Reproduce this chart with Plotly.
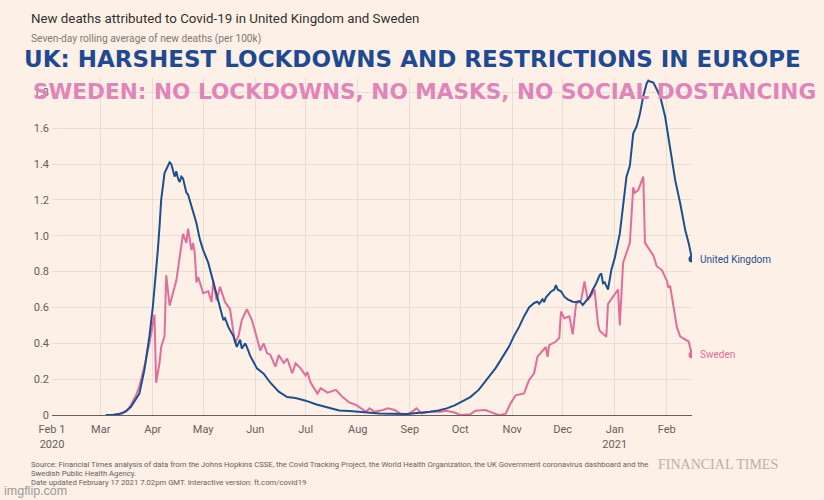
import plotly.graph_objects as go

uk_dates = ["2020-03-04","2020-03-08","2020-03-12","2020-03-16","2020-03-19","2020-03-22","2020-03-24","2020-03-27","2020-03-30","2020-04-01","2020-04-03","2020-04-04","2020-04-05","2020-04-06","2020-04-08","2020-04-10","2020-04-11","2020-04-12","2020-04-13","2020-04-14","2020-04-15","2020-04-16","2020-04-17","2020-04-18","2020-04-19","2020-04-20","2020-04-21","2020-04-22","2020-04-24","2020-04-27","2020-04-29","2020-05-01","2020-05-04","2020-05-07","2020-05-10","2020-05-13","2020-05-14","2020-05-16","2020-05-19","2020-05-21","2020-05-23","2020-05-24","2020-05-26","2020-05-27","2020-05-29","2020-06-02","2020-06-06","2020-06-10","2020-06-15","2020-06-20","2020-06-25","2020-07-01","2020-07-07","2020-07-13","2020-07-21","2020-07-27","2020-08-02","2020-08-14","2020-08-30","2020-09-06","2020-09-13","2020-09-18","2020-09-23","2020-09-28","2020-10-02","2020-10-07","2020-10-12","2020-10-17","2020-10-22","2020-10-26","2020-10-30","2020-11-02","2020-11-05","2020-11-08","2020-11-11","2020-11-14","2020-11-16","2020-11-17","2020-11-19","2020-11-20","2020-11-21","2020-11-24","2020-11-26","2020-11-27","2020-11-28","2020-11-30","2020-12-02","2020-12-04","2020-12-07","2020-12-09","2020-12-11","2020-12-13","2020-12-15","2020-12-17","2020-12-19","2020-12-21","2020-12-23","2020-12-24","2020-12-25","2020-12-26","2020-12-28","2020-12-30","2021-01-01","2021-01-04","2021-01-06","2021-01-08","2021-01-10","2021-01-12","2021-01-14","2021-01-16","2021-01-18","2021-01-20","2021-01-21","2021-01-22","2021-01-24","2021-01-26","2021-01-28","2021-01-31","2021-02-03","2021-02-06","2021-02-09","2021-02-12","2021-02-14","2021-02-16"]
uk_values = [0,0.0,0.005,0.02,0.046,0.09,0.12,0.25,0.44,0.60,0.79,0.92,1.05,1.20,1.35,1.39,1.41,1.40,1.37,1.33,1.36,1.32,1.30,1.33,1.32,1.28,1.24,1.23,1.16,1.07,0.98,0.92,0.85,0.74,0.64,0.53,0.54,0.49,0.44,0.38,0.42,0.37,0.40,0.38,0.33,0.26,0.23,0.18,0.13,0.10,0.095,0.08,0.06,0.046,0.025,0.022,0.018,0.009,0.005,0.01,0.018,0.025,0.037,0.055,0.074,0.10,0.14,0.20,0.26,0.32,0.38,0.44,0.49,0.55,0.60,0.625,0.632,0.62,0.645,0.63,0.655,0.688,0.70,0.725,0.70,0.69,0.66,0.645,0.632,0.63,0.635,0.614,0.635,0.66,0.70,0.735,0.78,0.79,0.735,0.74,0.70,0.81,0.875,1.01,1.17,1.33,1.39,1.57,1.61,1.68,1.78,1.85,1.865,1.86,1.855,1.82,1.78,1.665,1.48,1.31,1.18,1.03,0.96,0.87]

se_dates = ["2020-03-08","2020-03-11","2020-03-14","2020-03-17","2020-03-19","2020-03-22","2020-03-24","2020-03-27","2020-03-29","2020-03-30","2020-04-02","2020-04-03","2020-04-05","2020-04-06","2020-04-08","2020-04-09","2020-04-11","2020-04-13","2020-04-15","2020-04-17","2020-04-19","2020-04-21","2020-04-22","2020-04-24","2020-04-25","2020-04-26","2020-04-27","2020-04-28","2020-05-01","2020-05-04","2020-05-06","2020-05-07","2020-05-09","2020-05-11","2020-05-14","2020-05-17","2020-05-20","2020-05-22","2020-05-24","2020-05-27","2020-05-30","2020-06-02","2020-06-04","2020-06-06","2020-06-08","2020-06-10","2020-06-13","2020-06-15","2020-06-18","2020-06-20","2020-06-23","2020-06-25","2020-06-28","2020-07-01","2020-07-02","2020-07-04","2020-07-07","2020-07-08","2020-07-10","2020-07-14","2020-07-19","2020-07-23","2020-07-27","2020-07-31","2020-08-03","2020-08-06","2020-08-08","2020-08-11","2020-08-16","2020-08-19","2020-08-23","2020-08-26","2020-08-29","2020-09-01","2020-09-05","2020-09-08","2020-09-13","2020-09-19","2020-09-23","2020-09-28","2020-10-01","2020-10-07","2020-10-10","2020-10-16","2020-10-20","2020-10-24","2020-10-28","2020-10-31","2020-11-03","2020-11-08","2020-11-11","2020-11-14","2020-11-16","2020-11-19","2020-11-21","2020-11-22","2020-11-23","2020-11-27","2020-11-29","2020-11-30","2020-12-02","2020-12-05","2020-12-07","2020-12-09","2020-12-12","2020-12-14","2020-12-16","2020-12-19","2020-12-20","2020-12-22","2020-12-23","2020-12-27","2020-12-28","2021-01-03","2021-01-04","2021-01-06","2021-01-10","2021-01-12","2021-01-13","2021-01-15","2021-01-18","2021-01-19","2021-01-22","2021-01-24","2021-01-26","2021-01-29","2021-02-01","2021-02-02","2021-02-03","2021-02-06","2021-02-07","2021-02-09","2021-02-12","2021-02-14","2021-02-16"]
se_values = [0,0.003,0.01,0.03,0.056,0.11,0.16,0.27,0.35,0.40,0.56,0.18,0.29,0.38,0.44,0.78,0.61,0.68,0.75,0.88,1.01,0.96,1.04,0.92,0.96,0.90,0.74,0.77,0.68,0.69,0.63,0.75,0.64,0.715,0.63,0.59,0.40,0.44,0.53,0.59,0.53,0.43,0.36,0.40,0.345,0.335,0.27,0.335,0.29,0.315,0.233,0.288,0.26,0.22,0.24,0.18,0.14,0.12,0.15,0.125,0.14,0.10,0.07,0.056,0.037,0.018,0.037,0.018,0.028,0.037,0.028,0.009,0.0,0.009,0.037,0.009,0.018,0.018,0.024,0.013,0.0,0.004,0.024,0.028,0.013,0.0,0.006,0.065,0.11,0.12,0.195,0.233,0.325,0.36,0.38,0.325,0.39,0.41,0.43,0.577,0.54,0.55,0.45,0.62,0.64,0.745,0.64,0.68,0.70,0.51,0.47,0.437,0.62,0.70,0.50,0.85,0.96,1.27,1.24,1.255,1.33,0.96,0.92,0.89,0.83,0.81,0.75,0.71,0.72,0.53,0.49,0.437,0.42,0.41,0.335]

month_ticks = ["2020-02-01","2020-03-01","2020-04-01","2020-05-01","2020-06-01","2020-07-01","2020-08-01","2020-09-01","2020-10-01","2020-11-01","2020-12-01","2021-01-01","2021-02-01"]
month_labels = ["Feb 1<br>2020","Mar","Apr","May","Jun","Jul","Aug","Sep","Oct","Nov","Dec","Jan<br>2021","Feb"]
y_ticks = [0,0.2,0.4,0.6,0.8,1.0,1.2,1.4,1.6,1.8]
y_labels = ["0","0.2","0.4","0.6","0.8","1.0","1.2","1.4","1.6","1.8"]

UK_COL = "#1d4f8f"
SE_COL = "#e36c9b"
BG = "#fdf0e6"
GRID = "#eaded4"
TXT = "#66605c"

fig = go.Figure()
fig.add_trace(go.Scatter(x=se_dates, y=se_values, mode="lines", line=dict(color=SE_COL, width=2), hoverinfo="skip"))
fig.add_trace(go.Scatter(x=uk_dates, y=uk_values, mode="lines", line=dict(color=UK_COL, width=2), hoverinfo="skip"))
fig.add_trace(go.Scatter(x=[uk_dates[-1]], y=[uk_values[-1]], mode="markers", marker=dict(color=UK_COL, size=7), hoverinfo="skip"))
fig.add_trace(go.Scatter(x=[se_dates[-1]], y=[se_values[-1]], mode="markers", marker=dict(color=SE_COL, size=7), hoverinfo="skip"))

W, H = 824, 500
L, R, T, B = 52, 132, 78, 85
pw, ph = W - L - R, H - T - B

def px(x):
    return (x - L) / pw

def py(y):
    return (H - B - y) / ph

ann = []
def add(text, x, y, size, color, family="Roboto", xanchor="left", yanchor="middle"):
    ann.append(dict(text=text, xref="paper", yref="paper", x=px(x), y=py(y), xanchor=xanchor, yanchor=yanchor,
                    showarrow=False, font=dict(family=family, size=size, color=color)))

add("New deaths attributed to Covid-19 in United Kingdom and Sweden", 29, 18, 13.3, "#33302e")
add("Seven-day rolling average of new deaths (per 100k)", 29, 39, 10.2, "#807973")
add("<b>UK: HARSHEST LOCKDOWNS AND RESTRICTIONS IN EUROPE</b>", 412, 59, 23.0, "#1f4a93", family="DejaVu Sans", xanchor="center")
add("<b>SWEDEN: NO LOCKDOWNS, NO MASKS, NO SOCIAL DOSTANCING</b>", 424, 91, 21.6, "#e283b9", family="DejaVu Sans", xanchor="center")
add("Source: Financial Times analysis of data from the Johns Hopkins CSSE, the Covid Tracking Project, the World Health Organization, the UK Government coronavirus dashboard and the", 29, 464, 7.7, TXT)
add("Swedish Public Health Agency.", 29, 473, 7.7, TXT)
add("Date updated February 17 2021 7.02pm GMT. Interactive version: ft.com/covid19", 29, 482, 7.7, TXT)
add("FINANCIAL TIMES", 656, 464, 14, "#b8b1ab", family="Liberation Serif")
add("imgflip.com", 2, 491, 12.5, "#9a9a9a", family="Liberation Sans")

ann.append(dict(text="United Kingdom", x=uk_dates[-1], y=uk_values[-1], xref="x", yref="y", xanchor="left", yanchor="middle",
                xshift=6, showarrow=False, font=dict(family="Roboto", size=10, color=UK_COL)))
ann.append(dict(text="Sweden", x=se_dates[-1], y=se_values[-1], xref="x", yref="y", xanchor="left", yanchor="middle",
                xshift=6, showarrow=False, font=dict(family="Roboto", size=10, color=SE_COL)))

fig.update_layout(
    width=W, height=H,
    margin=dict(l=L, r=R, t=T, b=B),
    paper_bgcolor=BG, plot_bgcolor=BG,
    showlegend=False,
    font=dict(family="Roboto", color=TXT, size=11),
    annotations=ann,
    xaxis=dict(type="date", range=["2020-02-01", "2021-02-16"], tickvals=month_ticks, ticktext=month_labels,
               showgrid=True, gridcolor=GRID, gridwidth=1, showline=True, linecolor="#66605c", linewidth=1,
               zeroline=False, ticks="", tickfont=dict(size=11, color=TXT), ticklabelstandoff=4, fixedrange=True),
    yaxis=dict(range=[0, 1.88], tickvals=y_ticks, ticktext=y_labels, showgrid=True, gridcolor=GRID, gridwidth=1,
               zeroline=False, showline=False, ticks="", tickfont=dict(size=11, color=TXT), ticklabelstandoff=2, fixedrange=True),
)

fig.write_html("out.html", config={"displayModeBar": False},
               post_script="document.body.style.margin='0px';document.body.style.overflow='hidden';")
